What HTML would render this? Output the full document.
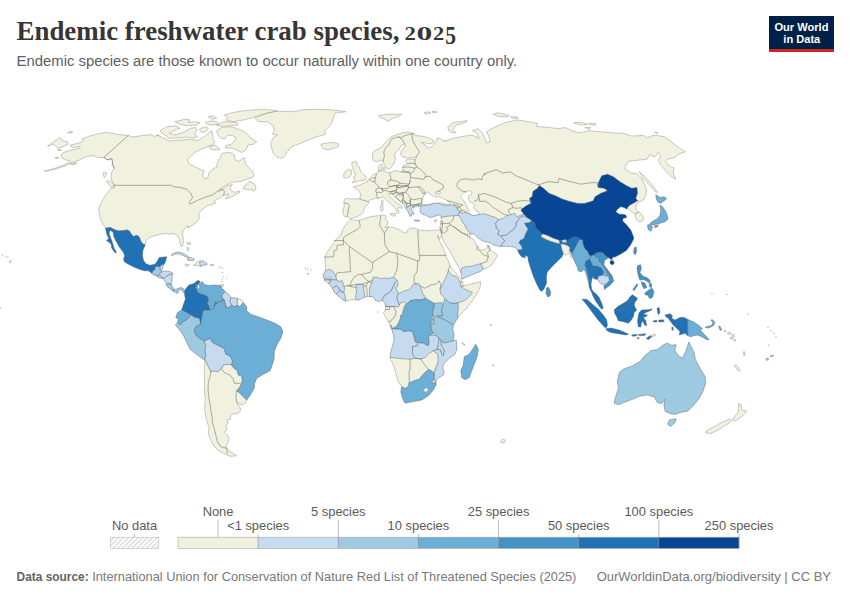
<!DOCTYPE html>
<html lang="en"><head><meta charset="utf-8"><title>Endemic freshwater crab species, 2025</title>
<style>
html,body{margin:0;padding:0;background:#fff;}
body{width:850px;height:600px;overflow:hidden;font-family:"Liberation Sans",sans-serif;}
svg{display:block;position:absolute;left:0;top:0;}
.title{font-family:"Liberation Serif",serif;font-weight:bold;font-size:26.9px;fill:#363636;}
.sub{font-family:"Liberation Sans",sans-serif;font-size:14.85px;fill:#5e5e5e;}
.lg{font-family:"Liberation Sans",sans-serif;font-size:12.9px;fill:#5b5b5b;}
.ft{font-family:"Liberation Sans",sans-serif;font-size:12.8px;fill:#787878;}
.ftb{font-weight:bold;font-size:11.9px;fill:#636363;}
.logo{font-family:"Liberation Sans",sans-serif;font-weight:bold;font-size:11.1px;fill:#fff;}
</style></head>
<body>
<svg width="850" height="600" viewBox="0 0 850 600">
<defs>
<pattern id="hatch" patternUnits="userSpaceOnUse" width="3.4" height="3.4" patternTransform="rotate(45)">
<rect width="3.4" height="3.4" fill="#fff"/><line x1="1.7" y1="-1" x2="1.7" y2="5" stroke="#dcdcdc" stroke-width="1.5"/>
</pattern>
</defs>
<rect width="850" height="600" fill="#fff"/>
<text x="16.5" y="40.3" class="title">Endemic freshwater crab species,</text>
<text x="404.6" y="39.9" class="title" style="font-size:18.9px" textLength="11.4" lengthAdjust="spacingAndGlyphs">2</text>
<text x="416.6" y="39.9" class="title" style="font-size:18.9px" textLength="15.8" lengthAdjust="spacingAndGlyphs">0</text>
<text x="433.1" y="39.9" class="title" style="font-size:18.9px" textLength="11.2" lengthAdjust="spacingAndGlyphs">2</text>
<text x="445.2" y="43.6" class="title" style="font-size:25.4px" textLength="10.8" lengthAdjust="spacingAndGlyphs">5</text>
<text x="16.6" y="66.2" class="sub">Endemic species are those known to occur naturally within one country only.</text>
<g>
<rect x="769" y="16" width="65" height="36" fill="#002147"/>
<rect x="769" y="49" width="65" height="3" fill="#ce261e"/>
<text x="801.4" y="30.7" text-anchor="middle" class="logo">Our World</text>
<text x="801.8" y="42.7" text-anchor="middle" class="logo">in Data</text>
</g>
<g id="map">
<path d="M70.8 145L80 142.8L83.3 140.8L81.7 139.2L87.5 136.7L96.7 134.2L106.7 132.2L111.7 133.3L120.8 134.7L128.3 135.5L133.3 137L140 135.8L146.7 135L152.5 134.7L154.2 136.3L159.2 135.3L156.7 135L166.7 139.3L168.7 141L178.3 140.3L188.3 139.3L198.3 140.3L201.7 138.3L206.7 135L209.2 132.5L211.7 130.8L212.5 135L213.3 139.2L215 142L212.5 144.7L208.3 146.3L201.7 149.2L195 152.5L189.2 157.5L187 160L187.3 160L189.3 164L194.7 166.7L200 169.3L204 170.7L202.7 176L204.7 179.1L208 177.3L209.3 172L213.3 168.7L216.7 167.3L217.3 162.7L220 158L222.7 153.3L226.7 152.4L230.7 152.7L234.7 155.3L235.3 160L239.3 161.3L244 157.3L246 164.7L249.3 168L252.7 171.3L254 174.7L252.7 177.3L246.7 179.3L241.3 181.3L234.7 182L230.7 182.7L226.7 184.7L222.7 187.3L218.7 190L223.3 188.7L228 185.3L232.5 184.7L230.9 186.5L230.3 188.8L232.1 191.2L234.4 192.4L236.8 191.7L239.1 190.5L239.7 192.4L235.6 194.7L230.9 197.1L225.6 198.8L226.1 197.6L229.1 194.1L223.7 195.3L220.3 197.6L216.8 199.3L213.7 201.7L215.6 202.9L212.1 204.7L207.9 205.3L204.9 207.6L200.3 211.2L198.5 214.1L200 216.7L198 220.7L193.3 224.7L188 228L188.3 225.8L183.3 230L182.5 234.2L183.3 238.3L183.3 243.3L181.7 247L180 243.3L179.2 238.3L176.7 235L173.3 233.3L170 234.2L165 233.3L160 234.2L154.2 235.8L149.2 237.5L145.8 240.8L145.2 245L142.3 243.6L140.9 241.2L139.2 236.9L136.7 235.2L133.5 236.6L131 233.8L129.3 230.9L127.2 229.9L124 230.6L118.3 230.9L114.1 229.5L110.6 227.6L105.6 228.1L103.3 224.2L100.8 220L99.2 214.2L98.7 208.3L101.7 201.7L105.8 195L110.8 188.3L115 185L113.3 183.3L111.7 180L111.2 176.7L111.7 172.5L112.5 170L114.2 168.3L112 165L112.8 161.7L111.7 158.7L108.3 160L105.8 159.2L104.2 157.5L98.3 157.5L93.3 155.8L86.7 156.3L80 159.7L71.7 163L65.8 165.8L55 169.2L44.2 171.3L55 168.3L63.3 165L70.8 161.7L70 160.8L65.8 160L62.5 158.3L60.8 155.3L63.3 152.5L71.7 150L80 148L80 146.3L73.3 147.5L70.5 146.3ZM47.5 146.3L60 137.5L62.5 140.8L67.5 141.7L68.3 144.2L61.7 147L57.5 148L53.3 144.2L50 145.3ZM67.5 132.5L70.8 131.3L72.8 132L70 133.3ZM57.5 149.7L60.8 149.5L61.3 150.5L58 150.7ZM55 157.5L58.3 157.2L58.7 158.3L55.3 158.5ZM70.8 163.7L75.8 162.5L76.7 163.7L71.7 165ZM103 173L105.8 172L106.7 174.2L104.7 177.5L103.3 175.8ZM106.7 181.3L109.7 180.8L113.3 184.2L115 187.5L112.5 188.3L109.2 185ZM216.7 130.8L221.7 127.5L230 126.7L236.7 128.3L240.8 130L245.8 132.5L250 137.5L256.7 141.7L253.3 144.2L248.3 145L245.8 150L241.7 152.5L236.7 150L233.3 148.3L225.3 148L225.8 145.7L231.2 144.3L234.7 140.8L235.8 137.3L232.3 135.5L227.7 135L225.3 138.5L221.7 138.7L217.5 134.2ZM160 130.8L166.7 126.7L175 125.8L180 128.3L173.3 130.8L169.2 133.3L175 135L183.3 132.5L190 128.3L195.8 127.5L196.7 130.8L194.2 134.2L197.5 136.7L193.3 138L186.7 137L178.3 138L168.3 138.3L167.5 136.7L161.7 133ZM175 121.7L185 119.2L190 120L188.3 122.5L195 121.7L200 122.5L196.7 125L187.5 125.8L180 124.2ZM199.2 129.2L205 126.7L208.3 128.3L205.8 131.7L201.7 132.5ZM216.7 125L223.3 121.7L236.7 122.5L238.3 125L228.3 125.8L221.7 126.3ZM224.2 115L233.3 112.5L243.3 110.8L256.7 109.7L270 109.7L277.5 110.8L270 112.5L260 115L253.3 117.5L243.3 120L233.3 121.7L225.8 120L228.3 117.5ZM208.3 116.7L214.2 115.8L216.7 118.3L211.7 119.2ZM205 122.5L211.7 120.8L216.7 121.7L218.3 124.2L213.3 125L207.5 124.7ZM209.2 146.7L215 145L220 149.2L215 150L210.8 149.2ZM242.7 188.7L246.7 184L250 180.7L251.3 182.7L254.7 184L256 187.3L255.3 190L252.7 191.3L252 189.3L249.3 190L246 189.3ZM255 118.3L258.3 116.7L266.7 113.3L276.7 111.3L280 111.3L290 111.7L298.3 110.8L303.3 109.7L320 109.2L333.3 110L345.8 111.7L335 113.3L333.3 118.3L331.7 123.3L328.3 127.5L324.2 130.8L325.8 134.2L320 135.8L313.3 138L306.7 140.8L298.3 144.2L291.7 146.7L287.5 151.7L284.2 156.7L280.8 158.3L276.7 156.7L273.3 153.3L271.7 148.3L270.8 143.3L273.3 137.5L277.5 135L272.5 134.2L274.2 130.8L273.3 125.8L266.7 121.7L258.3 121.7ZM320.8 144.2L326.7 143L334.2 142.5L338.3 143.7L338.7 146.3L334.2 148.3L328.3 149.7L323.3 148.7L321.7 146.3ZM378.3 115.8L386.7 114.2L401.7 114.2L398.3 116.7L393.3 118L388.3 121.3L385 119.2L380 117.5ZM185 264.5L187 264L189.5 265L188 266.2L185.5 265.8ZM193.5 264.5L196 264L196.5 262L199 260.8L200 261.2L199.8 264L200.5 266.5L197 265.5L194 265.5ZM210 264.5L213.5 264.3L213.8 265.5L210.5 265.8ZM220 284.8L223.5 284.5L223.5 286.2L220.5 286.5ZM186.7 242.5L190.8 243L190.5 244.5L187 244.2ZM187 247.5L189 247.8L188.7 250.8L187.2 250.5ZM237.5 298.3L241.7 300L243.3 302.5L240 306.7L237.5 305.8L237 302.5ZM204.7 360L205.8 360.8L208.3 366.7L210.8 371.7L213.3 370.8L217.5 371.7L221.7 368.3L223.3 365L228.3 364.2L231.7 365L231.7 365L233.3 367.5L237.5 370.8L238.3 375L241.7 375.8L242.5 381.7L240 386.7L236.7 390.8L238.3 391.7L242.5 395.8L246.7 400L245.8 402.5L241.7 405L237 403L240 407.5L240.8 410L238.3 413.3L231.7 414.2L230 416.7L230.8 419.2L226.7 420L228.3 423L225.8 425.8L226.7 429.2L224.7 432.5L227.5 435L229.2 438.3L227.5 443.3L225.8 446.7L226.7 448.3L230 451.7L236.7 455.8L230 456.3L223.3 453.3L217.5 450L213.3 445L210 438.3L208.3 433.3L209.2 428.3L207.5 423.3L205.8 416.7L204.7 408.3L205.3 398.3L204.2 390L204.7 381.7L204.2 373.3L204.7 365ZM373.1 160.6L372.2 156.2L372.8 152.5L376.2 150L381.2 147.5L384.4 143.8L388.1 139.4L392.5 136.2L397.5 134.4L402.5 132.8L408.1 132.2L413.8 133.5L415 135.6L421.2 136L427.5 137.5L433.1 140L433.8 142.5L430 143.8L426.2 143.1L421.2 142.5L426.2 145.6L427.5 148.1L431.9 146.9L433.8 145L436.2 141.2L436.9 138.5L440 138.1L441.9 140L445 140.6L444.3 141.6L453 138.3L463.8 136.2L472.5 135.1L479 138.3L476.8 132.9L472.5 130.7L477.9 128.6L482.2 132.9L484.4 137.2L486.6 142.7L490.3 141.6L488.7 136.2L486.6 131.8L492 128.6L498.5 125.3L505 122.7L516.9 119.9L526.6 121.4L537.5 123.2L536.4 126.4L548.3 127.5L559.1 128.6L565.6 127.5L572.1 130.7L578.6 132.9L589.5 130.7L600.3 131.8L613.3 132.9L623.5 133.3L631.4 136L643.8 135.5L647.1 137.8L653.9 135.1L664 136.6L670.8 141.1L677.5 146.8L685.4 151.7L678.7 154L675.3 157.6L667.4 159.2L665.2 161.4L669.7 165.9L674.2 168.2L673 172.7L675.7 179.4L670.8 176L665.2 170.4L660.7 164.8L658.4 160.3L660.7 155.8L658.4 152.4L655 156.9L649.4 154.7L647.1 159.2L637 160.3L628 161.4L624.6 168.2L630.3 172.7L637 173.8L641.5 178.3L644.9 185L646.7 190L645.8 195L643.3 200L640 201.7L637.5 200.8L638 203.3L635.8 205.8L636.3 210L638.3 212L640 212.5L643 216.7L643.3 220L640 222.5L637 220L635 215.8L635.8 213.7L632.5 212.5L630 210L627.5 207.5L615 205L600 215L545 215L507 225L484 228L474 232L470.8 233.7L470 235L469.7 238L473.3 239.2L475.8 243.3L477 246.3L478.3 245.8L478.7 249.7L479.7 249.7L483.3 250.3L486.7 248L488 244.7L489.7 246.3L490 250L494.2 252.5L497.5 255L495 260L491.7 265L486.7 268L483.3 269.2L478.3 268.7L471.7 270L465 270.8L462 275L460.8 271.7L458.3 266.7L455 260.8L451.7 254.2L447.5 247.5L443.3 240.8L441.7 235.8L441 231.7L440 227.5L440.6 223.8L441 221.9L441.2 217.5L445 212.5L436.2 210L421.2 206.2L415 206.2L409.4 207.5L406.9 208.8L405 207.5L404.4 205L401.2 202.5L397.5 199.4L393.8 196.2L392.5 193.8L389.7 193.8L388.7 193.7L388.8 195.7L391.5 198.4L394.8 201.3L398.2 203.8L401.3 206L402.3 208.2L400.3 208L398.4 207.2L397.6 208.8L399.2 210.9L398.4 213.4L396.8 212.2L395.9 209.2L393.8 206.8L390.5 203.8L387.2 200.9L384.7 198.4L381.8 196.8L378.8 198.4L376.9 198.1L373.8 198.8L370 200L368.1 201.5L368.8 203.1L365.6 206.2L363.8 209.4L363.1 212.5L360.6 215L356.2 216.9L352.5 218.1L350.6 218.8L348.1 216.9L344.4 216.2L343.1 213.8L342.8 210L344.4 206.2L343.8 202.5L344.4 199.4L346.9 198.5L352.5 199L359.8 198.8L360 198.1L360.6 193.8L358.8 190.6L354.4 188.1L353.1 186.9L357.5 185.6L361.2 184.4L364.4 183.1L368.1 181.2L367.5 180L369.4 179.4L371.2 176.9L373.1 174.4L375.6 173.8L377.5 173.1L378.8 171L378.5 168.8L378.8 165.6L380.6 164L382.5 165L381.9 167.5L381.9 169.4L383.1 170.6L385.6 171.9L388.1 172.5L391.2 172.2L395 170.6L398.8 171.2L401.2 171.9L402.5 171.5L403.1 170.6L402.5 167.5L403.8 165L405.6 165L407.5 163.8L405.6 161.9L406.9 159.4L410 159L415 159.4L416.2 157.8L416.2 156.9L413.8 157.2L407.5 158.1L402.5 156.9L400.6 154.4L401.2 150.6L403.8 148.1L405.6 145L403.8 144.4L401.2 145.6L399.4 148.8L396.2 151.9L394.4 155L395.6 158.1L395 160.6L393.8 163.8L391.2 167.5L389.4 169.4L386.9 168.1L384.4 165L383.1 161.2L381.2 160L376.9 161.9ZM343.5 175L345.6 171.2L349.4 169.4L351.9 170.6L351.5 174.4L349.4 176.9L345.6 178.1L343.8 177.5ZM351.9 162.5L355.6 161.2L357.5 162.5L356.2 165L359.4 166.9L360.6 171.2L364.4 175L366.5 177.5L365 180L360.6 180.6L356.2 181.9L351.9 182.5L355 180L353.1 177.5L355.6 175.6L354.4 171.9L352.5 168.1L351.9 165ZM383.1 167.8L385.2 167.5L385.6 169.8L383.8 170ZM390.1 213.4L395.9 213.4L395.1 216.3L391.3 215.5ZM380.5 205.9L382.6 205.1L383.4 208.8L382.2 211.3L380.5 210.5ZM381.3 200.9L382.8 200.1L383.2 203.8L381.8 204.7ZM433.8 220.6L436.9 219.4L436.2 221.5L434.4 221.9ZM447.6 127.5L453 122.7L467.1 120.6L466.4 122.1L456.2 125.3L452.6 129.7L456.2 132.9L449.7 131.8ZM493.1 114.1L498.5 112.8L509.3 115.6L507.1 117.1L497.4 116.2ZM510.4 116.7L516.9 116.7L518 118.4L512.6 118.4ZM573.9 122.7L580.8 122.1L587.3 124.2L580.8 125.3ZM588.4 123.2L596 123.8L595.5 125.3L589.5 124.9ZM585.1 127.5L590.5 127.5L589.5 129.7ZM639.2 171.7L645 176.7L652.5 185L657.5 192.5L655 191.7L650 185.8L643.3 178.3ZM654.6 132.1L657.7 132.8L657.3 133.9ZM650 335.8L655 334.2L655.8 335.3L651.7 337ZM627.5 300L628.5 299.8L628.5 300.8L627.7 301ZM738.6 403.6L741.2 404.7L741.9 410.1L746.9 411.2L743 415.6L738.6 418.8L735.4 421L732.6 419.9L735.4 415.6L738.6 411.2ZM730 418.8L731.7 421L725.6 425.3L718.1 430.1L710.5 433.5L705.7 432.9L707.2 430.1L714.8 426.4L722.4 422.1ZM734.3 365.7L736.5 365.1L740.4 370.1L738.6 371.2ZM743.4 351.7L744.5 351.7L744.9 355.6L743.8 355.6ZM724 330.4L725.5 330.4L725.8 331.6L724.3 331.6ZM727.6 332.4L730.7 332.4L731 334.2L727.9 334.2ZM732 334.6L734.1 334.6L734.4 336.8L732.3 336.8ZM730 337.6L732.7 337.6L733 338.8L730.3 338.8ZM733.6 339.6L735.3 339.6L735.6 340.8L733.9 340.8ZM350.6 219.4L353.8 220L358.8 220.6L363.8 218.8L370 216.9L375 216L380 215.6L383.8 215L386.2 216.2L385.6 219.4L388.1 221.9L386.9 225L385 227.5L388.8 226.9L393.8 227.5L400 230L403.8 232.5L406.2 233.1L407.5 230L410 228.1L415 228.1L418.8 230L426 230.6L428.3 230.8L435.8 230L440 230L441 231.7L441.7 235.8L439.2 239.2L437.5 235L439.2 240L442.5 246.7L445 252.5L445.3 255.3L448.3 260.8L450 265.8L453.3 270L457.5 275L460.8 279.2L462.5 282.5L463.3 285.8L470 284.2L480.8 281.7L480 287.5L476.7 294.2L471.7 301.7L465.8 309.2L460.8 314.2L457.5 318.3L451.7 320L443.3 328.3L446.7 348.3L436.7 365L430 381.7L413.3 395L405 389.2L401.7 386.7L398.3 381.7L395.8 373.3L393.3 365L390 357.5L396.7 348.3L396.7 331.7L391.7 328.7L390 325.8L389.2 321.7L388 321L385 316L383.5 313L385.5 309.5L385.5 306.5L390 304L378 295L369.5 296.5L367.2 296.5L365 297L360 295L356 299.5L351 299.8L348 300.5L345.8 301.2L341 287L328.5 283L326.5 282.5L325 281.5L324.5 280L329 274L325.5 271L325.3 262.5L325 256.7L327.5 251.7L331.7 245.8L335.8 240L340 235L341.2 235L342.5 230L345 225.6L348.1 221.9ZM432 380.8L434.2 380L434.7 383L432.5 383.7ZM462 342.8L463.1 342.8L463.1 343.9L462 343.9ZM463.7 344.2L464.8 344.2L464.8 345.3L463.7 345.3ZM492.8 364.8L493.9 364.8L493.9 365.9L492.8 365.9ZM490.3 324.5L491.4 324.5L491.4 325.6L490.3 325.6ZM377.7 311.7L378.3 311.7L378.3 312.4L377.7 312.4ZM424 112.5L429 111.8L431 113L426 114ZM432 111.5L436 111.2L437 112.5L433 113ZM9.3 261L10.8 260.3L11.7 261.6L10.6 263L9.4 262.6ZM500.6 441L502.5 439.2L505.3 440L504.5 442.5L501.5 443Z" fill="#f1f1df" stroke="#9c9c96" stroke-width="0.55" stroke-linejoin="round"/>
<path d="M422.2 200.6L423.3 196.8L425.1 193L427.9 191.9L430.9 194.4L432.5 196.3L434.4 195.7L436.3 197.4L439 196.3L441.7 197.7L445.5 199.5L448.7 201.7L450.4 204.2L447.7 204.9L443.3 203.3L440.1 202.8L435.7 203.3L431.4 203.9L427.1 204.9L423.3 204.4L421.7 202.8ZM435.2 192.5L437.4 191.4L440.6 191.6L440.1 193.4L437.4 194.1L435.7 193.8ZM460.4 196.3L463.9 192.5L469.3 190.6L472 191.9L471.5 194.7L468.8 196.3L468 199L470.4 202.2L473.1 203.3L474.7 205.5L473.6 207.7L475.8 210.4L478.5 212L479.1 214.2L475.8 216.3L472 215.8L469.3 213.1L468.2 209.3L466.6 205.5L464.4 201.7L461.7 198.4Z" fill="#fff" stroke="#9c9c96" stroke-width="0.55" stroke-linejoin="round"/>
<path d="M105.6 228.1L110.6 227.6L114.1 229.5L118.3 230.9L124 230.6L127.2 229.9L129.3 230.9L131 233.8L133.5 236.6L136.7 235.2L139.2 236.9L140.9 241.2L142.3 243.6L145.2 245L143 250L142.5 255L143.3 260L145.8 263.7L150 265.3L155 264.2L157.5 260.8L159.2 257.5L166.7 256.7L165.8 260.8L164.2 264.2L163.2 264.8L161 265L160.2 266.5L155.5 266.5L155 269.5L152.8 271L152.2 273.5L148.3 270.8L144.2 270.8L139.2 269.2L133.3 266.7L127.5 263.7L124.2 261.7L123.6 258.5L124.7 256L123.6 252.8L121.2 249.6L118.7 246.1L117.3 243.3L115.2 239.8L113.8 236.2L113.1 232.3L110.6 230.6L109.5 231.3L109.2 234.1L110.6 237.6L112 241.2L113.1 244.7L114.1 248.2L115.9 251.1L116.4 252.1L115.5 253.2L114.1 251.4L112.4 249.3L111.3 247.2L111.6 245.4L110.2 243.3L108.5 241.9L106.4 240.5L108.8 238.7L107.8 236.6L106.7 234.1L106 230.6Z" fill="#2171b5" stroke="#56606b" stroke-width="0.45" stroke-linejoin="round"/><!--Mexico-->
<path d="M155.5 266.5L160.2 266.5L160.2 270L161.5 271.5L161 272.2L160 273.5L158.5 275.5L156.5 275.8L153.5 275L152.2 273.5L152.8 271L155 269.5Z" fill="#9ecae1" stroke="#56606b" stroke-width="0.45" stroke-linejoin="round"/><!--Guatemala-->
<path d="M161 265L163.2 264.8L162.8 267.8L161.5 271.5L160.2 270L160.2 266.5Z" fill="#c6dbef" stroke="#56606b" stroke-width="0.45" stroke-linejoin="round"/><!--Belize-->
<path d="M161 272.2L165 271L170 271.5L173 273.5L172.5 274L168.5 275L165.5 277.2L163 278.5L162.2 277.2L160 275.7L158.5 275.5L160 273.5Z" fill="#c6dbef" stroke="#56606b" stroke-width="0.45" stroke-linejoin="round"/><!--Honduras-->
<path d="M156.5 275.8L158.5 275.5L160 275.7L162.2 277.2L162.5 278.5L160 278.2L157.5 277Z" fill="#c6dbef" stroke="#56606b" stroke-width="0.45" stroke-linejoin="round"/><!--El Salvador-->
<path d="M163 278.5L165.5 277.2L168.5 275L172.5 274L172.2 278L171.8 282L171.2 284.2L168.5 283.5L166.5 283.8L165 281.2L163.5 279.5Z" fill="#c6dbef" stroke="#56606b" stroke-width="0.45" stroke-linejoin="round"/><!--Nicaragua-->
<path d="M166.5 283.8L168.5 283.5L171.2 284.2L172.5 287L173.5 289L173 291.2L170.8 289.5L169 288L167.2 286.5L166.2 285Z" fill="#9ecae1" stroke="#56606b" stroke-width="0.45" stroke-linejoin="round"/><!--Costa Rica-->
<path d="M173.5 289L175 289.5L178 288.5L180.5 287.5L183.5 288.5L185 290.5L184.5 293.2L183.5 292.5L182.5 290.5L180.5 289.5L178.5 291L177.5 293.5L175.5 292.5L173 291.2Z" fill="#9ecae1" stroke="#56606b" stroke-width="0.45" stroke-linejoin="round"/><!--Panama-->
<path d="M171.2 255L174 253L178 252L182 252.8L185 254.5L189 257L193 258.5L194.7 259.8L192 260.5L188 260.5L187.5 259L189 258.5L185 256.5L182 255L178 254L174.5 254.2L172.5 255.5Z" fill="#c6dbef" stroke="#56606b" stroke-width="0.45" stroke-linejoin="round"/><!--Cuba-->
<path d="M200 261.2L203 260.8L205 262L207.5 264L205.5 265L203 265.2L200.5 266.5L199.8 264Z" fill="#c6dbef" stroke="#56606b" stroke-width="0.45" stroke-linejoin="round"/><!--Dominican Republic-->
<path d="M185 290.5L186 288.5L189 285L194 283.5L197.5 280.5L199.8 281L199 283L196.5 285L195.5 287.5L197 290L197.5 292L201 294L205 295L207.5 296.5L208.5 300L207.5 303L209 306L210 310L203.3 310L202.5 314.2L201.7 318.3L200.8 324.2L199.2 318.3L195 317.5L190.8 315L186.7 312.5L181.7 310L183.3 305L185 300L185.5 300L185 297L184.5 293.2Z" fill="#2171b5" stroke="#56606b" stroke-width="0.45" stroke-linejoin="round"/><!--Colombia-->
<path d="M199.8 281L199 283L200.3 283.6L201 282.2L202.6 281.8L204 284.5L209 285.5L215 285L220 285.5L222 287L221 288L224 290L225 292L222.5 294.5L222 297L224 300L222 301L219 302L215 303.5L214 306L217.5 303.3L215 302L214.2 308.3L210 310L209 306L207.5 303L208.5 300L207.5 296.5L205 295L201 294L197.5 292L197 290L195.5 287.5L196.5 285L199 283Z" fill="#6baed6" stroke="#56606b" stroke-width="0.45" stroke-linejoin="round"/><!--Venezuela-->
<path d="M225 292L222.5 294.5L222 297L224 300L222 301L224.2 299.7L225.3 303.3L226.7 308.3L230 306.7L231.7 305L230 301.7L230.8 297.5L227.5 293.3Z" fill="#c6dbef" stroke="#56606b" stroke-width="0.45" stroke-linejoin="round"/><!--Guyana-->
<path d="M230.8 297.5L237.5 298.3L237 302.5L237.5 305.8L234.2 306.7L231.7 305L230 301.7Z" fill="#c6dbef" stroke="#56606b" stroke-width="0.45" stroke-linejoin="round"/><!--Suriname-->
<path d="M181.7 310L186.7 312.5L190.8 315L187.5 319.2L183.3 321.7L180 325L177.5 322.5L178.3 319.2L175.8 317.5L177.5 312.5Z" fill="#6baed6" stroke="#56606b" stroke-width="0.45" stroke-linejoin="round"/><!--Ecuador-->
<path d="M177.5 322.5L180 325L183.3 321.7L187.5 319.2L190.8 315L195 317.5L199.2 318.3L200.8 324.2L195.8 326.7L194.2 330.8L195.8 335L200 338.3L204.2 340.8L205.8 345.8L205 350L205.8 355L204.7 360L200.8 357.5L195 353.3L190 349.2L186.7 342.5L183.3 335L178.3 328.3L175.3 325Z" fill="#9ecae1" stroke="#56606b" stroke-width="0.45" stroke-linejoin="round"/><!--Peru-->
<path d="M204.2 340.8L210 338.3L212.5 342.5L217.5 345L224.2 348.3L225.8 354.2L230 355.8L232.5 360.8L231.7 365L228.3 364.2L223.3 365L221.7 368.3L217.5 371.7L213.3 370.8L210.8 371.7L208.3 366.7L205.8 360.8L204.7 360L205.8 355L205 350L205.8 345.8Z" fill="#c6dbef" stroke="#56606b" stroke-width="0.45" stroke-linejoin="round"/><!--Bolivia-->
<path d="M243.3 302.5L246.7 306.7L246.7 310.8L250.8 314.2L260 317.5L266.7 320L275 323.3L280.8 326.7L283 331.7L280.8 338.3L276.7 345L274.2 351.7L274.2 358.3L271.7 366.7L270 370.8L263.3 374.2L256.7 378.3L254.7 383.3L254.2 388.3L250.8 394.2L246.7 400L242.5 395.8L238.3 391.7L236.7 390.8L240 386.7L242.5 381.7L241.7 375.8L238.3 375L237.5 370.8L233.3 367.5L231.7 365L232.5 360.8L230 355.8L225.8 354.2L224.2 348.3L217.5 345L212.5 342.5L210 338.3L204.2 340.8L200 338.3L195.8 335L194.2 330.8L195.8 326.7L200.8 324.2L201.7 318.3L202.5 314.2L203.3 310L210 310L214.2 308.3L215 302L217.5 303.3L214 306L215 303.5L219 302L222 301L224.2 299.7L225.3 303.3L226.7 308.3L230 306.7L231.7 305L234.2 306.7L237.5 305.8L240 306.7Z" fill="#6baed6" stroke="#56606b" stroke-width="0.45" stroke-linejoin="round"/><!--Brazil-->
<path d="M521.7 209L526.7 205.5L530.9 203.4L529.5 198.4L532.3 196.3L533 191.3L537.3 188.5L539.4 185.4L543.7 188.5L549.3 193.5L555 195.6L562.1 199.1L569.2 201.3L577.7 203.4L584.8 203.4L585 203.3L593.3 200.8L595 196.7L600.8 193.3L607.5 190.8L604.2 188.3L598.3 187.5L597.5 185L600 179.2L601.7 175.8L607.5 174.2L613.3 176.7L620 181.7L626.7 185.8L631.7 188.3L637 187.5L637.5 193.3L635.8 198.3L637.5 200.8L633.3 203.3L630 205L627.5 207.5L626.7 209.2L624.2 207.5L620.8 206.7L617.5 209.2L615.8 211.7L619.2 214.2L622.5 214.2L625.8 215L626.7 217.5L623.3 218.3L622.5 220.8L626.7 225L630.8 230L632.5 234.2L633.7 237.5L633.5 239.2L630.7 244.8L626.4 250.5L620.8 254L615.1 256.9L612.5 257.3L612 259.9L609.4 258.3L605.9 256.2L602.3 252.6L597.4 252.6L593.8 254.8L591 256.2L588.9 254.8L587.5 251.2L584.6 248.4L583.2 244.8L582.5 239.9L579.8 240.2L577.8 238.7L573.9 238.3L570.7 240L567.2 242.8L562.2 242.8L559.6 242.2L553.1 240.2L547.9 237.6L542.7 236L541.4 235L539.1 232.1L535.7 228.5L533.9 223L531.6 220.4L526.7 217.5L523.8 214L521 210.5ZM610.1 261.1L613 260.4L614.4 263L612.3 265L610.1 263.5Z" fill="#084594" stroke="#56606b" stroke-width="0.45" stroke-linejoin="round"/><!--China-->
<path d="M634.2 247.7L636.3 247L636.6 251.2L635.2 255L633.5 252.6Z" fill="#4292c6" stroke="#56606b" stroke-width="0.45" stroke-linejoin="round"/><!--Taiwan-->
<path d="M655.8 194.7L660 197.5L664.2 196.7L666.7 198.7L664.2 200.8L660.8 203.3L658.3 202.5L656.3 199.2ZM660 205L663.3 207.5L666.7 213.3L668 219.2L665 221.7L660 223.3L655.8 224.2L652.5 225L650 223.3L653.3 220.8L656.7 219.2L659.7 215.8L660.8 210.8ZM654.2 225.8L658.3 224.7L657.5 227L654.7 227.5ZM647.5 225L650.8 224.2L652.5 227.5L650.8 231.3L648 229.2Z" fill="#6baed6" stroke="#56606b" stroke-width="0.45" stroke-linejoin="round"/><!--Japan-->
<path d="M524.5 223.2L529.5 222.5L531.5 220.4L534.5 222.5L536.2 227.9L539.5 231.1L542.1 234L541.2 235.7L542.1 237.3L546.6 239.6L551.8 241.5L557 243.1L559.6 243.5L559.6 240.2L560.3 240L561.6 240.2L562.2 242.6L565.5 242.8L567.2 241.5L570 238.3L573.9 236.6L577.8 237L580.2 238.9L578.5 241.8L576.5 245.2L575 248.3L573.9 251.7L572.6 255.2L570.7 252.6L569 250L570 248L568.1 246.1L564.2 244.4L560.9 244.1L561.2 246.1L562.2 250L563.5 253.2L562.2 256.5L559 259.7L555.1 263.6L550.5 268.2L547.3 272.1L546.4 276.6L546.6 283.1L544 289L541.4 291.6L539.5 289.6L536.2 283.1L533 275.3L530.4 267.5L528.4 261L527.8 256.5L524.5 255.2L525.8 257.8L521.9 257.1L519.3 253.9L517.5 250.1L521.9 249.4L521.1 245.9L518.4 243.1L519.8 240.2L523.2 238.8L524.8 234.5L527.6 228.9L525.6 226Z" fill="#2171b5" stroke="#56606b" stroke-width="0.45" stroke-linejoin="round"/><!--India-->
<path d="M561.6 240.2L566.1 239.3L567.2 241.5L565.5 242.8L562.2 242.6Z" fill="#c6dbef" stroke="#56606b" stroke-width="0.45" stroke-linejoin="round"/><!--Bhutan-->
<path d="M546.4 288L548.5 287.3L550.6 291.6L550.2 295.8L547.8 297L546 293.7Z" fill="#4292c6" stroke="#56606b" stroke-width="0.45" stroke-linejoin="round"/><!--Sri Lanka-->
<path d="M500.5 236L507.5 234.5L509.7 231.7L513.2 229.6L516 226L516 222.5L518.2 220.4L519.6 217.5L523.1 216.1L526.7 217.5L531.6 220.4L529.5 222.5L524.5 223.2L526 226L528.1 228.9L525.3 234.5L523.8 238.8L520.3 240.2L518.9 243L521.7 245.9L522.4 249.4L517.5 250.1L515.3 247.3L510.4 246.6L505.4 246.3L500.5 246.6L502.6 243L504.7 240.9Z" fill="#c6dbef" stroke="#56606b" stroke-width="0.45" stroke-linejoin="round"/><!--Pakistan-->
<path d="M498.3 219.7L503.3 218.3L507.5 215.4L511.1 214.7L514.6 213.3L516.8 216.8L520.3 215.4L523.8 214L523.1 216.1L519.6 217.5L518.2 220.4L516 222.5L516 226L513.2 229.6L509.7 231.7L507.5 234.5L500.5 236L497.6 234.5L499 230.3L496.2 228.2L495.5 223.2Z" fill="#c6dbef" stroke="#56606b" stroke-width="0.45" stroke-linejoin="round"/><!--Afghanistan-->
<path d="M460 211.9L463.1 213.1L466.2 211.9L466.9 213.1L469.4 213.8L472.5 215.6L476.2 215L480 214.4L484.2 213.7L489.1 215.4L495.5 217.5L498.3 219.7L495.5 223.2L496.2 228.2L499 230.3L497.6 234.5L500.5 236L504.7 240.9L502.6 243L500.5 246.6L493.3 245L490 242.5L485 241.7L480.8 240L476.7 236.7L474.2 234.2L470.8 233.7L470 234.4L469.4 232.5L466.2 228.8L465 225L462.5 222.5L461.2 218.8L458.8 215.6L458.1 214.4Z" fill="#c6dbef" stroke="#56606b" stroke-width="0.45" stroke-linejoin="round"/><!--Iran-->
<path d="M420 208.1L423.1 205.6L430 204.8L434.4 203.1L438.8 203.5L443.8 205.2L449.4 205.2L453.8 204.8L456.9 208.1L458.1 210.6L460 211.9L458.1 214.4L458.8 215.6L453.8 215.6L448.1 216.2L443.8 216.9L441.2 217.5L440.6 215.6L438.8 215L435 216.2L431.2 217.5L428.8 216.9L425.6 215L422.5 214.4L420 211.9L420.2 209.4ZM418.1 205L421.2 203.8L422.5 204.8L420 206.2L418.5 206.2Z" fill="#c6dbef" stroke="#56606b" stroke-width="0.45" stroke-linejoin="round"/><!--Turkey-->
<path d="M405.9 208L407.2 206.8L409.2 205.9L410.9 205.1L413.4 205.1L415.9 204.7L418.4 203.8L419.2 204.7L418 205.5L415.5 205.7L413.4 206.3L414.7 208L413.4 207.8L412.2 207.2L411.3 208.8L412.6 211.3L414.2 213.4L413 214.7L411.8 213.4L411.3 215.9L410.1 216.3L408.8 213.4L407.6 210.9L406.3 209.2ZM414.4 220L419.4 220.2L419.4 221.2L414.8 221Z" fill="#c6dbef" stroke="#56606b" stroke-width="0.45" stroke-linejoin="round"/><!--Greece-->
<path d="M460.8 271.7L461.7 268.3L465.8 266.7L471.7 266.3L476.7 264.7L480.8 263.7L483.3 269.2L480 271.7L473.3 274.2L466.7 277L462 279.2Z" fill="#c6dbef" stroke="#56606b" stroke-width="0.45" stroke-linejoin="round"/><!--Yemen-->
<path d="M579.7 239.2L582.5 239.9L583.2 244.8L584.6 248.4L587.5 251.2L588.9 254.8L591 256.2L589.6 259L586 261.1L585.1 265.4L586.8 269.6L587.9 273.9L588.9 278.8L589.9 284.5L589.3 287.3L588.2 281.7L586.8 276L585.3 271.8L583.9 268.9L581.8 271.8L578.3 271L577.5 267.5L574.7 261.8L572.6 256.9L571.9 252.6L573.3 251.2L575.4 247L577.5 242.7Z" fill="#6baed6" stroke="#56606b" stroke-width="0.45" stroke-linejoin="round"/><!--Myanmar-->
<path d="M589.6 259L593.1 266.1L596.7 266.1L600.9 267.5L603.8 271.8L603 275.3L598.8 276L597.4 279.5L593.8 278.8L593.1 276L591.7 279.5L591 284.5L591.7 289.5L594.5 293L593.8 295.1L591 291.6L589.6 288L589.3 287.3L589.9 284.5L588.9 278.8L587.9 273.9L586.8 269.6L585.1 265.4L586 261.1Z" fill="#2171b5" stroke="#56606b" stroke-width="0.45" stroke-linejoin="round"/><!--Thailand-->
<path d="M591 256.2L593.8 254.8L596 256.9L599.5 258.3L598.8 261.1L601.6 263.3L605.2 268.9L608.3 273.9L607.7 276.3L604.5 275.3L603.8 271.8L600.9 267.5L596.7 266.1L593.1 266.1L589.6 259Z" fill="#6baed6" stroke="#56606b" stroke-width="0.45" stroke-linejoin="round"/><!--Laos-->
<path d="M593.8 254.8L597.4 252.6L602.3 252.6L605.9 256.2L608 258.3L604.5 260.4L603.8 264.7L608 270.3L612.3 276L613.7 281L610.8 284.5L607.3 287.3L604.5 289.5L603.8 285.9L606.6 283.8L609.4 280.3L608.7 276.7L608.3 273.9L605.2 268.9L601.6 263.3L598.8 261.1L599.5 258.3L596 256.9Z" fill="#4292c6" stroke="#56606b" stroke-width="0.45" stroke-linejoin="round"/><!--Vietnam-->
<path d="M598.8 276L603 275.3L607.7 276.3L608.7 276.7L609.4 280.3L606.6 283.8L602.3 284.5L598.8 281.7L597.4 279.5Z" fill="#c6dbef" stroke="#56606b" stroke-width="0.45" stroke-linejoin="round"/><!--Cambodia-->
<path d="M592.2 293.3L595.3 293L599.2 297.5L601.7 303.3L603.3 308.3L601.7 309.2L598.3 305L595 300L592.5 295ZM614.2 310L617.5 306.7L623.3 303.3L627.5 300.8L630 296.7L632.5 294.7L637.5 298.3L635.8 301.7L635 301.3L630 301.7L628.3 304.2L625 308.3L620 310.8L616.3 310.3Z" fill="#2171b5" stroke="#56606b" stroke-width="0.45" stroke-linejoin="round"/><!--Malaysia-->
<path d="M582 299.2L586.7 299.2L592.5 304.2L598.3 309.2L603.3 315L606.7 320L607.5 325.8L605.8 328.3L602.5 325L597.5 319.2L592.5 312.5L587.5 305.8L584.2 301.7ZM605.8 328.7L610.8 328L618.3 329.7L625 332.5L628.7 334.2L625.8 335L618.3 333.7L610.8 332.5L607 330.8ZM631.7 335L636.3 334.2L636.7 335.8L632.5 336.3ZM637.5 334.7L641.7 334.2L645.8 333.7L645 335.3L640 335.8ZM636.7 337.5L639.2 338L638.7 339.2ZM646.3 338.3L650 335.8L651.7 337L648.3 339.7ZM614.2 310L616.3 310.3L620 310.8L625 308.3L628.3 304.2L630 301.7L635 301.3L634.2 305.8L636.7 310L634.2 312.5L633.3 316.7L630.8 320.8L628.3 323.3L623.3 321.7L618.3 320.8L616.7 316.7L614.7 313.3ZM639.2 312.5L641.7 310L648.3 309.7L652 308.7L651.3 310.3L645.8 312.5L643.3 314.2L647.5 315L645.8 316.7L643.3 317.5L645.8 320.8L646.7 325.8L644.7 325L642.5 320.8L641.3 323.3L640.8 327L638.3 326.7L637.5 320.8L638.3 315.8ZM657 308.3L659.2 307.5L660 312.5L658.3 314.7L657.5 311.7ZM653.3 320.8L656.7 320.3L657 322L653.7 322ZM658.3 320.3L663.3 319.7L664.2 321.7L659.2 322ZM671.7 327.5L673 327L673.3 330L672 330.3ZM665 315L670 313.7L672.5 315.8L671.7 318.3L675 320L680 317.5L684.2 317.5L687.8 319.5L687.8 335.8L685 333.3L681.7 334.2L679.2 335L680 331.7L676.7 328.3L673.3 325L670 320.8L668.3 318.3L665.8 316.7Z" fill="#2171b5" stroke="#56606b" stroke-width="0.45" stroke-linejoin="round"/><!--Indonesia-->
<path d="M687.8 319.5L693.3 321.7L698.3 325L702.5 328.7L700 330L703.3 333.3L706.7 336.7L709.2 340L705.8 339.2L701.7 336.7L697.5 335L693.3 335.8L690.8 336.7L687.8 335.8ZM705 327.6L709 328L713.6 325.6L715 322.4L712.4 319.6L711 320L713 323L711 325.6L707 326.4ZM719 326L720 326.2L721.7 330L720.4 330.5L719.1 328Z" fill="#6baed6" stroke="#56606b" stroke-width="0.45" stroke-linejoin="round"/><!--Papua New Guinea-->
<path d="M637.8 265.4L640.6 264.7L641.3 268.9L639.9 272.5L642.7 276L647.7 278.1L650.5 281L649.1 283.1L645.5 280.3L642 279.5L639.9 280.3L638.5 276.7L637.5 271.8L637 267.5ZM641.3 281.7L644.8 283.1L647 287.3L644.1 288.8L642 285.2ZM632.8 289.5L637 283.8L637.8 285.2L634.2 290.5ZM644.8 293L648.4 290.2L651.9 288L654 291.6L652.6 297.3L649.8 298.7L647.7 295.1L645.5 295.1ZM649.8 282.4L651.9 284.5L651.2 288L649.1 285.9Z" fill="#4292c6" stroke="#56606b" stroke-width="0.45" stroke-linejoin="round"/><!--Philippines-->
<path d="M614.1 401.5L616.2 395L618.4 388.5L617.3 380.9L619.5 372.2L623.8 369L632.5 365.7L640.1 361.4L644.4 356L650.9 350.6L657.4 349.5L662.8 345.2L667.1 343L671.5 345.2L676.2 344.7L674.7 350.6L678 354.9L682.3 358.2L685.6 351.7L688.8 341.9L691 346.2L694.2 352.7L695.3 359.2L698.6 365.7L701.8 371.2L705.1 376.6L705.7 383.1L702.9 391.7L698.6 399.3L693.1 405.8L687.7 411.2L681.2 412.3L674.7 414.5L669.3 413.4L665 411.2L663.9 404.7L665 399.3L661.7 403.6L657.4 402.6L654.2 397.1L647.7 395L640.1 396.1L632.5 399.3L623.8 402.6L618.4 404.7L614.7 403.6ZM669.3 419.9L676.2 418.8L674.7 423.1L670.4 426.4L667.6 424.2Z" fill="#9ecae1" stroke="#56606b" stroke-width="0.45" stroke-linejoin="round"/><!--Australia-->
<path d="M765.9 358.6L768.1 358.2L768.5 359.9L766.4 360.3ZM770 356L773.3 355.1L773.5 356L770.5 356.9Z" fill="#c6dbef" stroke="#56606b" stroke-width="0.45" stroke-linejoin="round"/><!--Fiji-->
<path d="M323 274.5L325.5 271L329 269.2L332 270.5L334.5 273.5L336 276.5L336.5 280L330 279.8L324.5 280L323.5 277Z" fill="#c6dbef" stroke="#56606b" stroke-width="0.45" stroke-linejoin="round"/><!--Senegal-->
<path d="M328.5 283L330.5 281.5L330 279.8L336.5 280L339.5 281.5L342 280.5L343 283L344.2 286.5L344.5 289.5L343.8 292L342 293L341.5 291L339.5 290.5L338.5 287.5L336.5 286L334 287L332.5 288.5L330.5 285.5Z" fill="#c6dbef" stroke="#56606b" stroke-width="0.45" stroke-linejoin="round"/><!--Guinea-->
<path d="M332.5 288.5L334 287L336.5 286L338.5 287.5L339.5 290.5L338 292.5L336.5 294.5L334 292Z" fill="#c6dbef" stroke="#56606b" stroke-width="0.45" stroke-linejoin="round"/><!--Sierra Leone-->
<path d="M336.5 294.5L338 292.5L339.5 290.5L341.5 291L342 293L343.8 292L345 295L345.5 298.5L345.8 301.2L343 300L340 297.5Z" fill="#c6dbef" stroke="#56606b" stroke-width="0.45" stroke-linejoin="round"/><!--Liberia-->
<path d="M356.5 284.5L363 284.2L363.5 287L364 291L364.5 294L365 297L362 298.5L358 300.5L356 299.5L355.5 296L356.5 292L356 287.5Z" fill="#c6dbef" stroke="#56606b" stroke-width="0.45" stroke-linejoin="round"/><!--Ghana-->
<path d="M369.5 296.5L369.5 291L370 287L372 282L373 277.5L376.5 277L380 278.5L384 278L388 278.5L392.5 277.5L395.5 278.5L397 280.5L395 282.5L393 287L391.5 290.5L388 293.5L385 295L383.5 297.5L382 300.5L378 301.5L375.5 300.5L374 297.5L372 296.5Z" fill="#c6dbef" stroke="#56606b" stroke-width="0.45" stroke-linejoin="round"/><!--Nigeria-->
<path d="M397 280.5L398 283.5L397.5 286.5L395.5 287.5L397 290.5L398.5 293.5L397 296.5L397.5 300.5L399.5 305L398 307L394 306.5L390 306.5L385.5 306.2L385 303.5L383.5 301.5L382 300.5L383.5 297.5L385 295L388 293.5L391.5 290.5L393 287L395 282.5Z" fill="#c6dbef" stroke="#56606b" stroke-width="0.45" stroke-linejoin="round"/><!--Cameroon-->
<path d="M398.5 293.5L405 290.8L410 289.2L413.3 284.2L418.3 283.3L420 285.8L422.5 292.5L425.8 298.3L420.8 300L415 299.7L410 300.8L406.7 304.2L404.2 301.7L400 303.3L399.5 305L397.5 300.5L397 296.5Z" fill="#c6dbef" stroke="#56606b" stroke-width="0.45" stroke-linejoin="round"/><!--Central African Republic-->
<path d="M406.7 304.2L410 300.8L415 299.7L420.8 300L425.8 298.3L430 300.8L434.2 303.3L434.2 307.5L432.5 311.7L432.5 316.3L430 320L430.8 324.2L431.3 329.2L433.3 333.3L430.8 335L428.3 336.7L429.2 342.5L428.3 345.8L423.3 343.3L417.5 342.5L415 341.7L414.2 337.5L412.5 331.7L408.3 330.8L403.3 331.7L400.8 329.2L396.7 329.2L391.7 328.7L395.8 326.7L398.3 323.3L400 319.2L400.8 315L401.7 316.7L403.3 310L405 305Z" fill="#6baed6" stroke="#56606b" stroke-width="0.45" stroke-linejoin="round"/><!--DR Congo-->
<path d="M434.2 303.3L441.7 302.5L443.3 304.2L441.7 310L442.5 315.8L435.8 315.8L432.5 316.3L432.5 311.7L434.2 307.5Z" fill="#9ecae1" stroke="#56606b" stroke-width="0.45" stroke-linejoin="round"/><!--Uganda-->
<path d="M445 298.3L449.2 302.5L453.3 303.3L458.3 302.5L458.3 308.3L457.5 318.3L453.3 325L446.7 320.8L437.5 316.7L442.5 315.8L441.7 310L443.3 304.2Z" fill="#9ecae1" stroke="#56606b" stroke-width="0.45" stroke-linejoin="round"/><!--Kenya-->
<path d="M430.8 316.3L433.3 315.8L434.2 318.3L431.7 320Z" fill="#c6dbef" stroke="#56606b" stroke-width="0.45" stroke-linejoin="round"/><!--Rwanda-->
<path d="M433.3 317.5L437.5 316.7L446.7 320.8L453.3 325L452.8 330L454.2 335L453.3 340.8L446.7 342.5L444.2 343L440.8 340.8L439.2 338.3L436.7 335.8L433.3 333.3L431.3 329.2L430.8 324.2L431.7 320Z" fill="#9ecae1" stroke="#56606b" stroke-width="0.45" stroke-linejoin="round"/><!--Tanzania-->
<path d="M448.3 270.8L451.7 275L456.7 276.7L460 281.7L460.8 286.3L465 289.2L472.5 292.5L469.2 296.7L464.2 300.8L458.3 302.5L453.3 303.3L449.2 302.5L445 298.3L440.8 294.2L440 289.2L443.3 282.5L446.7 275.8Z" fill="#c6dbef" stroke="#56606b" stroke-width="0.45" stroke-linejoin="round"/><!--Ethiopia-->
<path d="M391.7 328.7L396.7 329.2L400.8 329.2L403.3 331.7L408.3 330.8L412.5 331.7L414.2 337.5L415 341.7L417.5 342.5L417.5 345.8L412.5 346.7L412.5 354.2L415.8 358.3L410 359.2L401.7 358.7L395 358L390 357.5L390.8 351.7L392.5 345.8L394.2 340L393.3 334.2ZM390 325.8L391.3 325L392.2 327.7L391 328.2Z" fill="#c6dbef" stroke="#56606b" stroke-width="0.45" stroke-linejoin="round"/><!--Angola-->
<path d="M417.5 342.5L423.3 343.3L428.3 345.8L429.2 342.5L428.3 336.7L430.8 335L436.7 335.8L439.2 338.3L438.3 344.2L437.5 349.2L433.3 350.8L429.2 353.3L425 357.5L420.8 359.2L415.8 358.3L412.5 354.2L412.5 346.7L417.5 345.8Z" fill="#c6dbef" stroke="#56606b" stroke-width="0.45" stroke-linejoin="round"/><!--Zambia-->
<path d="M453.3 340.8L456.3 340L457 349.2L454.7 354.7L449.2 358.3L444.2 363.3L442.5 367.5L444.2 371.7L443.3 375L437.5 378.3L435.8 381.3L434.2 379.2L434.2 373.3L435 370L437.5 365L438.3 359.2L437.5 354.2L433.3 350.8L437.5 349.2L440.8 350L441.7 354.2L443.3 355.8L444.2 350L441.3 345.8L440.8 340.8L444.2 343L446.7 342.5Z" fill="#c6dbef" stroke="#56606b" stroke-width="0.45" stroke-linejoin="round"/><!--Mozambique-->
<path d="M439.2 338.3L440.8 340.8L441.3 345.8L444.2 350L443.3 355.8L441.7 354.2L440.8 350L437.5 349.2L438.3 344.2Z" fill="#c6dbef" stroke="#56606b" stroke-width="0.45" stroke-linejoin="round"/><!--Malawi-->
<path d="M401.7 386.7L405 388.3L407.5 387.5L409.2 382.5L411.7 381.7L415.8 380L419.2 379.2L421.7 375.8L425 372.5L428.3 369.2L431.7 370.8L434.2 373.3L434.2 379.2L432 380.8L432.5 383.7L434.7 383L435.8 381.3L436.3 384.2L433.3 390L428.3 395.8L421.7 400L415 401.3L408.3 402.5L405 403.3L402.5 398.3L400.8 391.7Z" fill="#6baed6" stroke="#56606b" stroke-width="0.45" stroke-linejoin="round"/><!--South Africa-->
<path d="M475.8 344.2L478.3 349.2L477.5 355L475 362.5L471.7 370.8L469.2 377.5L465 379.7L461.7 377.5L460.8 370.8L463.3 365L464.2 356.7L469.2 354.2L472.5 349.2Z" fill="#6baed6" stroke="#56606b" stroke-width="0.45" stroke-linejoin="round"/><!--Madagascar-->
<path d="M198 284.3L199.4 284.7L199.6 287.8L198.6 289.2L197.6 287.6Z" fill="#fff" stroke="#56606b" stroke-width="0.4" stroke-linejoin="round"/>
<path d="M219.35 267.1h0.9v0.8h-0.9ZM221.75 267.8h0.9v0.8h-0.9ZM222.05 272.1h0.9v0.8h-0.9ZM223.05 276.1h0.9v0.8h-0.9ZM226.05 278.1h0.9v0.8h-0.9ZM221.75 278.6h0.9v0.8h-0.9ZM221.05 281.1h0.9v0.8h-0.9ZM2.05 254.7h0.9v0.8h-0.9ZM5.25 256.1h0.9v0.8h-0.9ZM7.35 256.9h0.9v0.8h-0.9ZM-0.05 307.4h0.9v0.8h-0.9ZM305.05 267.8h0.9v0.8h-0.9ZM307.05 268.8h0.9v0.8h-0.9ZM310.35 269.6h0.9v0.8h-0.9ZM308.05 273.1h0.9v0.8h-0.9ZM306.75 273.6h0.9v0.8h-0.9ZM767.55 327h0.9v0.8h-0.9ZM770.55 330.6h0.9v0.8h-0.9ZM773.55 333.2h0.9v0.8h-0.9ZM775.55 336.6h0.9v0.8h-0.9ZM768.15 344.6h0.9v0.8h-0.9ZM747.55 313.6h0.9v0.8h-0.9ZM711.55 293.2h0.9v0.8h-0.9ZM726.55 294h0.9v0.8h-0.9Z" fill="#f1f1df" stroke="#9c9c96" stroke-width="0.35"/>
<path d="M324.2 277.2L330.8 277L331 278.3L324.5 278.6ZM423.3 390L426.3 387.5L428.7 389.7L425.8 392.5ZM541.2 235.7L542.7 234L547.9 235.7L553.1 238.3L559 240.2L559.6 243.5L557 243.1L551.8 241.5L546.6 239.6L542.1 237.3ZM560.9 244.1L564.2 244.4L568.1 246.1L570 248L569 250L570.7 252.6L572 256.5L571.3 257.8L570 255.2L568.7 252.6L567.2 254.5L565.1 255.2L563.5 253.2L562.2 250L561.2 246.1Z" fill="#f1f1df" stroke="#9c9c96" stroke-width="0.55" stroke-linejoin="round"/>
<path d="M128.3 135.5L104.2 157.2L107 159.7L112 158.8L112.8 165L114.5 168.7M115 185.3L170 185.3L171.7 185L173.3 186.7L180 187.5L186.7 189.2L190.8 193.3L192.5 197.5L189.2 202.5L190 204.2L198.3 200L206.7 196.7L212.5 195L218.3 190.8L218.7 191.3L223.2 189.5L224.4 191.7L223.7 195.3M210.8 371.3L210 376.7L208.3 383.3L208 390L208.7 396.7L210 403.3L210.8 410L212 416.7L212.5 423.3L214.2 428.3L215.8 435L217.5 441.7L220.8 446.7L226.7 448.3M226.7 448.3L227.5 453.3M221.7 369.2L224.2 372.5L230 375L233.3 379.2L234.2 383.3L240 383.3L242.5 381.7M236.7 390.8L236.3 393.3L235.8 397.5L237 403M359 220.7L360.4 226.3L356.8 229.9L351.2 232.7L346.2 235.5L343.4 237.7L343.4 240.5M334.2 240.5L343.4 240.5L343.4 244.8L337 245.2L337 249.7L334.2 250.4L333.5 256.8L324.3 257.2M343.4 240.8L349.8 246.9L349.3 248.3L350.5 271.7L337 272.8L335.9 275.9M349.8 246.9L372.4 262.5L389.4 251.6M389.4 251.6L385.2 245.5L384.5 239.1L384.5 233.4L379.5 224.9L380.9 216.4M384.5 233.4L386.6 229.9L388.7 227M389.4 251.6L396.5 253.3L417.8 261L419.2 261L419.9 255.4M417.8 230.6L419.2 255.4L419.9 255.4L446.1 255.4M396.5 253.3L397.9 260.3L397.2 268.8L393.7 277.3M417.8 261L417 271.7L414.2 275.9L414.2 281.6L416.3 285.1M372.4 262.5L372.7 268.1L370.3 272.4L363.9 273.8L361.8 274.5L358.3 274.5L354 277.3L351.2 281.6L350.5 285.8L347.6 285.8M361.8 274.5L365.3 278.8L368.9 281.6L371.7 280.2M350.5 285.8L356.1 284.4L362.5 284.1L365.3 283L368.9 281.6M364 286L366 286L367 290L367.2 296.5M366 286L368.5 281.5L371 283L372 282M324.5 280L330 279.8L330.5 281.5L328.5 283M344.2 286.5L347.5 285.5L350 286L352.5 287L356 287.5M385.5 306.5L389.5 306.7L389.5 309.5L385.5 309.5M389.5 306.7L394 306.5L394.5 309L396 311L395.5 315L394 318L392 319L390.5 322L388.5 321.2M420 285.8L425 288.3L430.8 285L435.8 284.2L439.2 280.8L440.8 285L440 289.2M448.3 270.8L449.2 267.5L450 265.8M460 281.7L462.5 282.5M463.3 285.8L460.8 286.3M431 320.3L433.8 319.3L434 323.7L431.7 324.5M410 359.2L410.3 369.2L409.2 370L409.2 382.5M420.8 359.2L424.2 364.2L428.3 369.2M415.8 358.3L420.8 358.7M453.8 216.2L453.1 220L449.4 223.1L450.6 225M442.5 223.8L449.4 223.1M450.6 225L446.2 227.5L448.1 230L443.8 233.1L441.9 232.5M442.5 223.8L442.1 228.1L441.9 232.5L440 227.5M441 221.9L442.5 221.2L442.5 223.8L440.9 223.8M450.6 225L455 227.5L461.2 232.5L466.2 234.4M467.5 234.2L467.5 235.8L469.7 238M467.5 235.8L461.7 232.5L453.3 226.7M480.8 263.7L486.7 261.7L488.3 256.7L482.5 254.2L479.2 250M488 245.8L490 250L487.5 252.5L488.3 256.7M477 246.7L477.3 250M447.5 200.6L451.9 201.9L456.2 203.1L460 204.4L462.5 205M453.8 204.8L456.9 205.2L460 206.9L462.5 205M456.9 206.9L460 207.5L461.9 210.6L460 211.5L458.1 209.4L456.9 206.9M461.9 210.6L463.8 210.6L466.2 211.9M466.2 191.9L462.5 191.2L458.8 188.8L456.9 186.2L457.5 182.5L461.2 179.4L467.5 178.8L473.1 180L477.5 178.8L481.9 179.8L482.5 176.2L486 173.8M483.3 174.1L496.3 169.7L502.8 173L510.4 171.9L516.9 176.2L525.6 179.5L535.3 183.8L538.6 184.9M530.9 201.3L523.8 200.5L516.8 201.3L511.1 203.4L505.4 202L498.3 198.4L491.3 195.6L484.2 193.5L478.5 194.9L477.8 199.8L474.3 201.3M530.9 201.3L530.9 203.4M511.1 203.4L512.5 206.2L512.5 207.6L516.8 208.3L521 207.6L521.7 209M512.5 207.6L508.3 209.8L509 212.6L511.1 214.7M479.9 201.3L485.6 201.3L489.8 204.1L493.4 207.6L498.3 210.5L503.3 214L507.5 215.4M478.5 194.9L479.9 201.3M538.6 184.9L548.3 181.6L558.1 182.7L559.1 178.4L570 181.6L580.8 184.2L591.6 182.7L598.1 182.7L599.2 186M635.8 213.7L638.3 212M383.1 161.2L384.4 156.2L383.8 151.9L385.6 148.1L389.4 143.8L391.2 139.4L395.6 137.5L398.8 136.9L401.2 137.5L405 135.6L408.8 134.4L411.9 134M404.4 143.8L403.1 140.6L398.8 136.9M413.8 133.8L411.9 134L412.5 140L415 145L417.5 148.8L419.4 151.9L416.2 156.9M415 159.4L414.8 162.5L415.6 164L416.5 166.9L415 168.1M407.5 163.8L411.2 163.1L415.6 164M402.5 167.5L407.5 166.9L411.2 167.5L415 168.1L413.8 170.6L411.9 173.1L410 173.8M403.1 170.6L406.2 171.5L409.4 172.2L410 173.8L410.6 177.5L410 180.6L409.4 183.8M401.2 171.9L406.2 172.5L409.4 172.2M416.5 166.9L420 168.8L423.1 171.9L426.2 175.6L425 176.9M410.6 177.5L415 178.1L420 178.8L423.8 179.4L425 176.9L430 176.2L433.1 180L438.8 182.5L443.1 185L443.8 188.1L440 190L436.9 192.5M378.8 171L381.9 170.6M389.8 173L390.1 175.1L390.9 177.6L390.9 180.1M387.6 182.6L388.8 180.5L390.9 180.1L393.8 180.5L397.2 181.3L400.1 183L398.8 184.7L396.3 185.5L393 185.9L390.1 186.8L388 184.7L387.6 182.6M400.1 183L401.3 183.4L405.5 183.8L408.8 184.2L410.5 181.3M408.8 184.2L408 185.9L408.8 187.6M396.3 185.5L396.8 186.8L398.4 187.6L401.3 187.2L404.7 186.3L408 185.9L396.3 185.5M381.8 188.4L384.7 188.8L387.6 188.4L390.1 186.8L393 185.9L396.3 185.5L396.8 186.8L397.2 188.4L395.9 190.5L393 191.3L390.1 191.8L387.2 190.9L384.2 190.5L382.2 190.1L381.8 188.4M375.9 189.7L378.4 188L381.8 188.4L382.2 190.1L383.4 191.3L381.3 192.6L378.8 192.2L376.8 192.6L375.9 191.3L375.9 189.7M396.8 186.8L398.4 187.6L401.3 187.2L404.7 186.3L408 185.9L408.8 187.6L407.2 190.1L405.5 192.2L402.2 193L398.8 193.4L396.8 192.2L395.9 190.5L397.2 188.4L396.8 186.8M390.1 191.8L393 191.3L395.9 190.5L396.8 192.2L394.7 193L393 193.8L390.9 193.4L390.1 191.8M393 193.8L394.7 193L396.8 192.2L398.8 193.4L402.2 193L403 194.7L400.9 195.1L398.4 194.7L396.3 195.1L395.9 196.8L398 199.2L400.5 201.3L402.2 200.9M403 194.7L403.4 196.8L403 198.8L402.2 200.9L402.6 203M402.2 193L405.5 192.2L407.2 193.8L408.8 195.5L409.7 197.2L410.9 198.8L410.1 200.9L410.5 202.6L408.8 203.4L406.8 203.4L405.5 201.3L403.8 200.9L403 198.8L403.4 196.8L403 194.7L402.2 193M403.8 200.9L405.1 202.2L403.8 203.4M405.1 202.2L405.9 203.4L406.3 205.1L407.2 206.8M406.8 203.4L408.8 203.4L410.5 203.8L410.9 205.1L409.2 205.9L407.2 206.8L406.3 205.1L406.8 203.4M410.1 200.9L410.9 198.8L413.4 199.7L416.8 199.2L419.7 198.4L422.2 198.8L421.8 200.9L421.3 203L418.4 203.8L415.9 204.7L413.4 205.1L410.9 205.1L410.5 202.6L410.1 200.9M407.2 190.1L408.8 187.6L412.2 187.2L415.5 187.2L418 186.8L420.1 188.8L421.8 191.8L423 193.4L425.5 193.8M418 186.8L420.5 186.8L423 189.2L424.7 192.2L423.8 193.4L423 193.4M376.3 174.2L375.9 176.3L375.1 178.8L374.7 181.3L375.1 183.4L377.2 184.7L378.4 185.9L378.4 188M372.2 177.8L375.3 178.2M369.7 178.8L370.9 180.5L373 181.8L374.7 181.3M376.8 192.6L376.3 195.5L378.4 198.4M344.4 203.1L348.1 203.5L349.4 206.2L348.1 210L348.1 213.8L346.9 216.2M359.8 198.8L363.8 200.6L368.1 201.5" fill="none" stroke="#77776f" stroke-width="0.6" stroke-linejoin="round" stroke-linecap="round"/>
</g>
<g id="legend">
<rect x="110.4" y="537.2" width="48.3" height="11.3" fill="url(#hatch)" stroke="#bdbdbd" stroke-width="0.6"/>
<line x1="134.4" x2="134.4" y1="534.2" y2="537" stroke="#7a7a7a" stroke-width="0.5"/>
<text x="134.5" y="530.2" text-anchor="middle" class="lg">No data</text>
<rect x="178.00" y="537.2" width="80.14" height="11.3" fill="#f1f1df"/>
<rect x="258.14" y="537.2" width="80.14" height="11.3" fill="#c6dbef"/>
<rect x="338.29" y="537.2" width="80.14" height="11.3" fill="#9ecae1"/>
<rect x="418.43" y="537.2" width="80.14" height="11.3" fill="#6baed6"/>
<rect x="498.57" y="537.2" width="80.14" height="11.3" fill="#4292c6"/>
<rect x="578.71" y="537.2" width="80.14" height="11.3" fill="#2171b5"/>
<rect x="658.86" y="537.2" width="80.14" height="11.3" fill="#084594"/>
<rect x="178.0" y="537.2" width="561.0" height="11.3" fill="none" stroke="#a8a8a8" stroke-width="0.6"/>
<line x1="218.07" x2="218.07" y1="519.8" y2="537.2" stroke="#7a7a7a" stroke-width="0.5"/>
<text x="218.07" y="515.9" text-anchor="middle" class="lg">None</text>
<line x1="258.14" x2="258.14" y1="534.2" y2="548.5" stroke="#7a7a7a" stroke-width="0.5"/>
<text x="258.14" y="530.2" text-anchor="middle" class="lg">&lt;1 species</text>
<line x1="338.29" x2="338.29" y1="519.8" y2="548.5" stroke="#7a7a7a" stroke-width="0.5"/>
<text x="338.29" y="515.9" text-anchor="middle" class="lg">5 species</text>
<line x1="418.43" x2="418.43" y1="534.2" y2="548.5" stroke="#7a7a7a" stroke-width="0.5"/>
<text x="418.43" y="530.2" text-anchor="middle" class="lg">10 species</text>
<line x1="498.57" x2="498.57" y1="519.8" y2="548.5" stroke="#7a7a7a" stroke-width="0.5"/>
<text x="498.57" y="515.9" text-anchor="middle" class="lg">25 species</text>
<line x1="578.71" x2="578.71" y1="534.2" y2="548.5" stroke="#7a7a7a" stroke-width="0.5"/>
<text x="578.71" y="530.2" text-anchor="middle" class="lg">50 species</text>
<line x1="658.86" x2="658.86" y1="519.8" y2="548.5" stroke="#7a7a7a" stroke-width="0.5"/>
<text x="658.86" y="515.9" text-anchor="middle" class="lg">100 species</text>
<line x1="739.00" x2="739.00" y1="534.2" y2="548.5" stroke="#7a7a7a" stroke-width="0.5"/>
<text x="739.00" y="530.2" text-anchor="middle" class="lg">250 species</text>
</g>
<text x="16.6" y="580.6" class="ft"><tspan class="ftb">Data source:</tspan> International Union for Conservation of Nature Red List of Threatened Species (2025)</text>
<text x="831" y="580.6" text-anchor="end" class="ft" style="font-size:13px">OurWorldinData.org/biodiversity | CC BY</text>
</svg>
</body></html>
